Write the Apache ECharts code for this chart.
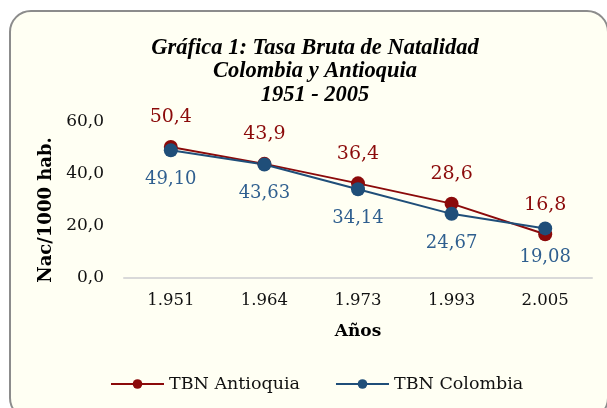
<!DOCTYPE html>
<html>
<head>
<meta charset="utf-8">
<script src="https://cdn.jsdelivr.net/npm/echarts@6/dist/echarts.min.js"></script>
<style>
  html, body { margin: 0; padding: 0; background: #ffffff; }
  #frame {
    position: absolute; left: 9px; top: 10px; width: 600px; height: 410px;
    box-sizing: border-box; border: 2px solid #8c8c8c; border-radius: 22px;
    background: #fffff3;
  }
  #chart { position: absolute; left: 0; top: 0; width: 607px; height: 408px; }
</style>
</head>
<body>
<div id="frame"></div>
<div id="chart"></div>
<script>
const years = ['1.951', '1.964', '1.973', '1.993', '2.005'];
const antioquia = [50.4, 43.9, 36.4, 28.6, 16.8];
const colombia = [49.10, 43.63, 34.14, 24.67, 19.08];
const titleLines = ['Gráfica 1: Tasa Bruta de Natalidad', 'Colombia y Antioquia', '1951 - 2005'];

const font = 'DejaVu Serif';
const red = '#8b0a0a';
const blue = '#1f4e79';
const comma = (v, d) => v.toFixed(d).replace('.', ',');

const chart = echarts.init(document.getElementById('chart'));
chart.setOption({
  animation: false,
  textStyle: { fontFamily: font },
  title: {
    text: titleLines.join('\n'),
    left: 310,
    textAlign: 'center',
    top: 31,
    textStyle: {
      fontFamily: 'Liberation Serif', fontSize: 22.5, fontWeight: 'bold', fontStyle: 'italic',
      color: '#000', lineHeight: 23.5
    }
  },
  legend: {
    left: 105,
    top: 370,
    itemWidth: 53,
    itemHeight: 12,
    itemGap: 35,
    textStyle: { fontFamily: font, fontSize: 17.5, color: '#111' },
    data: ['TBN Antioquia', 'TBN Colombia']
  },
  grid: { left: 124, right: 15, top: 122, bottom: 130 },
  xAxis: {
    type: 'category',
    data: years,
    name: 'Años',
    nameLocation: 'middle',
    nameGap: 45,
    nameTextStyle: { fontFamily: font, fontSize: 17, fontWeight: 'bold', color: '#000' },
    axisLine: { lineStyle: { color: '#d9d9d9', width: 2 } },
    axisTick: { show: false },
    axisLabel: { fontFamily: font, fontSize: 16.5, color: '#111', margin: 14 }
  },
  yAxis: {
    type: 'value',
    min: 0, max: 60, interval: 20,
    name: 'Nac/1000 hab.',
    nameLocation: 'middle',
    nameGap: 68,
    nameTextStyle: { fontFamily: font, fontSize: 18, fontWeight: 'bold', color: '#000',
      padding: [0, 20, 0, 0] },
    splitLine: { show: false },
    axisLine: { show: false },
    axisTick: { show: false },
    axisLabel: { fontFamily: font, fontSize: 17, color: '#111', margin: 20,
      formatter: v => comma(v, 1) }
  },
  series: [
    {
      name: 'TBN Antioquia',
      type: 'line',
      data: antioquia,
      symbol: 'circle',
      symbolSize: 14,
      lineStyle: { color: red, width: 2 },
      itemStyle: { color: red },
      label: { show: true, position: 'top', distance: 13, fontFamily: font, fontSize: 19,
        color: red, formatter: p => comma(p.value, 1) }
    },
    {
      name: 'TBN Colombia',
      type: 'line',
      data: colombia,
      symbol: 'circle',
      symbolSize: 14,
      lineStyle: { color: blue, width: 2 },
      itemStyle: { color: blue },
      label: { show: true, position: 'bottom', distance: 13, fontFamily: font, fontSize: 18,
        color: '#2f5f8f', formatter: p => comma(p.value, 2) }
    }
  ]
});
</script>
</body>
</html>
